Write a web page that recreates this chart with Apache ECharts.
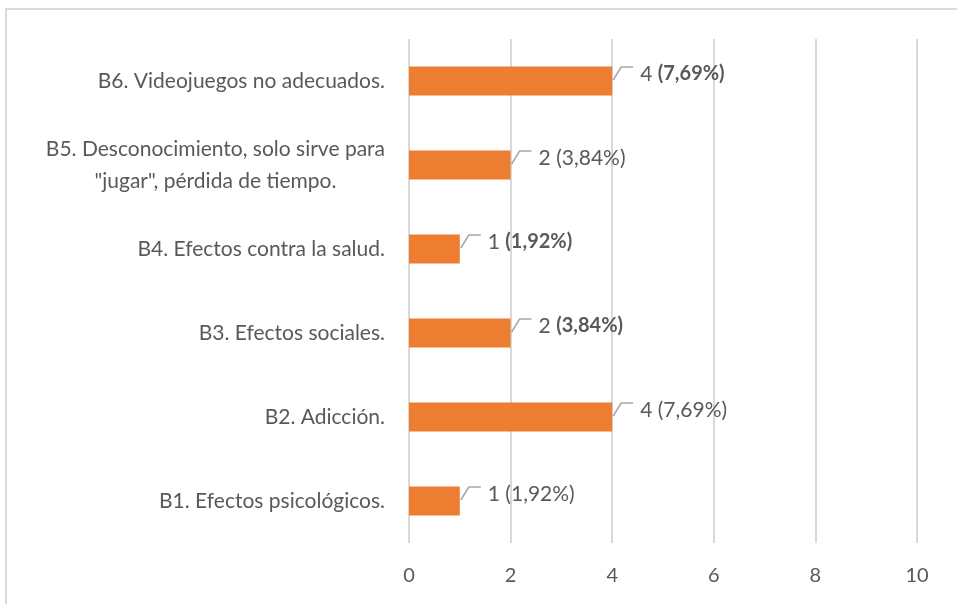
<!DOCTYPE html>
<html>
<head>
<meta charset="utf-8">
<script src="https://cdn.jsdelivr.net/npm/echarts@6/dist/echarts.min.js"></script>
<style>
html, body { margin: 0; padding: 0; background: #fff; }
#main { width: 957px; height: 604px; }
</style>
</head>
<body>
<div id="main"></div>
<script>
// categorias de abajo hacia arriba (eje category de echarts empieza abajo)
var categories = [
    'B1. Efectos psicológicos.',
    'B2. Adicción.',
    'B3. Efectos sociales.',
    'B4. Efectos contra la salud.',
    'B5. Desconocimiento, solo sirve para\n"jugar", pérdida de tiempo.',
    'B6. Videojuegos no adecuados.'
];
var values = [1, 4, 2, 1, 2, 4];
var percents = ['1,92%', '7,69%', '3,84%', '1,92%', '3,84%', '7,69%'];
var boldPct = [false, false, true, true, false, true];
var xTicks = [0, 2, 4, 6, 8, 10];

var chartDom = document.getElementById('main');
var myChart = echarts.init(chartDom);
var textColor = '#595959';
var font = 'Lato, "Open Sans", sans-serif';

var lineData = values.map(function (v, i) { return [v, i]; });

var option = {
    animation: false,
    backgroundColor: '#fff',
    textStyle: { fontFamily: font },
    graphic: [{
        type: 'rect',
        shape: { x: 6, y: 9, width: 1000, height: 700 },
        style: { fill: 'none', stroke: '#d9d9d9', lineWidth: 2 },
        silent: true
    }],
    grid: {
        left: 409,
        right: 40,
        top: 39,
        bottom: 61
    },
    xAxis: {
        type: 'value',
        min: xTicks[0],
        max: xTicks[xTicks.length - 1],
        interval: 2,
        axisLine: { show: false },
        axisTick: { show: false },
        splitLine: { lineStyle: { color: '#d9d9d9', width: 2 } },
        axisLabel: {
            color: textColor,
            fontSize: 20,
            margin: 23,
            fontFamily: font
        }
    },
    yAxis: {
        type: 'category',
        data: categories,
        axisLine: { show: false },
        axisTick: { show: false },
        axisLabel: {
            color: textColor,
            fontSize: 21,
            lineHeight: 32,
            margin: 24,
            fontFamily: font,
            formatter: function (v) {
                return v.split('\n').map(function (s) { return '{c|' + s + '}'; }).join('\n');
            },
            rich: {
                c: { align: 'center', fontSize: 21, lineHeight: 32, color: textColor, fontFamily: font }
            }
        }
    },
    series: [
        {
            type: 'bar',
            data: values,
            barWidth: 29,
            itemStyle: { color: '#ED7D31' },
            label: {
                show: true,
                position: 'right',
                distance: 28,
                offset: [0, -7],
                formatter: function (p) {
                    var i = p.dataIndex;
                    var pct = boldPct[i] ? '{b|(' + percents[i] + ')}' : '{n|(' + percents[i] + ')}';
                    return '{n|' + values[i] + ' }' + pct;
                },
                rich: {
                    n: { fontSize: 21, color: textColor, fontFamily: font },
                    b: { fontSize: 20, color: textColor, fontFamily: font, fontWeight: 'bold' }
                }
            },
            z: 3
        },
        {
            // lineas guia de las etiquetas
            type: 'custom',
            data: lineData,
            silent: true,
            z: 4,
            renderItem: function (params, api) {
                var p = api.coord([api.value(0), api.value(1)]);
                return {
                    type: 'polyline',
                    shape: { points: [[p[0] + 1, p[1] - 1], [p[0] + 9, p[1] - 14], [p[0] + 21, p[1] - 14]] },
                    style: { stroke: '#a6a6a6', lineWidth: 1.5, fill: 'none' }
                };
            }
        }
    ]
};

option && myChart.setOption(option);
window.addEventListener('resize', function () {
    myChart.resize();
});
</script>
</body>
</html>
